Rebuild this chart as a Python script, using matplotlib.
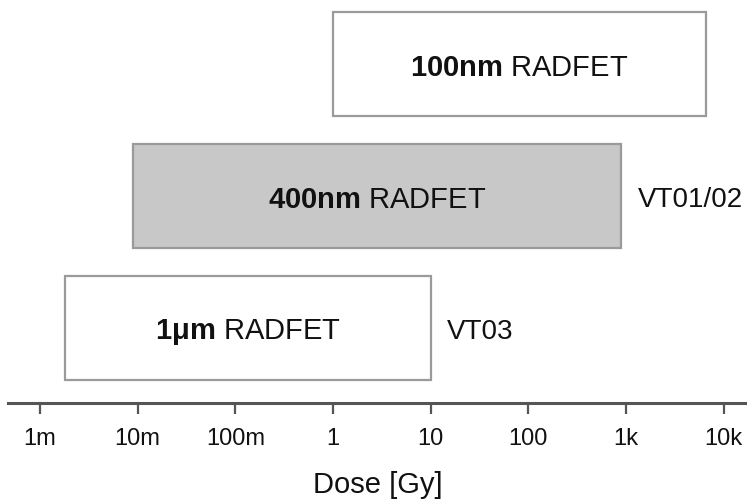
import numpy as np
import matplotlib
matplotlib.use("Agg")
import matplotlib.pyplot as plt
from matplotlib.ticker import FixedLocator, NullLocator

# Data
devices = ["1µm", "400nm", "100nm"]
dose_min = [1.8e-3, 8.9e-3, 1.0]
dose_max = [10.0, 890.0, 6600.0]
fill_colors = ["white", "#c8c8c8", "white"]
side_labels = ["VT03", "VT01/02", ""]
tick_values = [1e-3, 1e-2, 1e-1, 1, 10, 100, 1e3, 1e4]
tick_labels = ["1m", "10m", "100m", "1", "10", "100", "1k", "10k"]

plt.rcParams['font.family'] = ['Liberation Sans', 'DejaVu Sans']
plt.rcParams['mathtext.fontset'] = 'custom'
plt.rcParams['mathtext.rm'] = 'Liberation Sans'
plt.rcParams['mathtext.bf'] = 'Liberation Sans:bold'
plt.rcParams['mathtext.it'] = 'Liberation Sans:italic'

fig = plt.figure(figsize=(7.47, 5), dpi=100)
ax = fig.add_axes([8/747, 1 - 403/500, 739/747, 403/500])

ypos = np.arange(len(devices))
widths = [b - a for a, b in zip(dose_min, dose_max)]
ax.barh(ypos, widths, left=dose_min, height=104/132, color=fill_colors,
        edgecolor="#9a9a9a", linewidth=1.6, zorder=2)

ax.set_xscale("log")
ax.set_xlim(10**(-325/97.7), 10**(414/97.7))
ax.set_ylim(-75/132, 2 + 64/132)

for i, (name, a, b) in enumerate(zip(devices, dose_min, dose_max)):
    xc = np.sqrt(a * b)
    ax.annotate(r"$\mathbf{" + name.replace("µ", r"\mu ") + "}$ RADFET",
                xy=(xc, i), xytext=(0, -3), textcoords="offset points",
                ha="center", va="center", fontsize=21, color="#111111", zorder=3)
    if side_labels[i]:
        ax.annotate(side_labels[i], xy=(b, i), xytext=(12, -3),
                    textcoords="offset points", ha="left", va="center",
                    fontsize=20, color="#111111")

for s in ["top", "right", "left"]:
    ax.spines[s].set_visible(False)
ax.spines["bottom"].set_color("#555555")
ax.spines["bottom"].set_linewidth(2.2)
ax.xaxis.set_major_locator(FixedLocator(tick_values))
ax.xaxis.set_minor_locator(NullLocator())
ax.set_xticklabels(tick_labels)
ax.tick_params(axis="x", direction="out", length=8, width=1.6, color="#555555",
               labelsize=17, pad=10, labelcolor="#111111")
ax.set_yticks([])
ax.set_xlabel("Dose [Gy]", fontsize=21, labelpad=15, color="#111111")

fig.savefig("out.png", dpi=100)
